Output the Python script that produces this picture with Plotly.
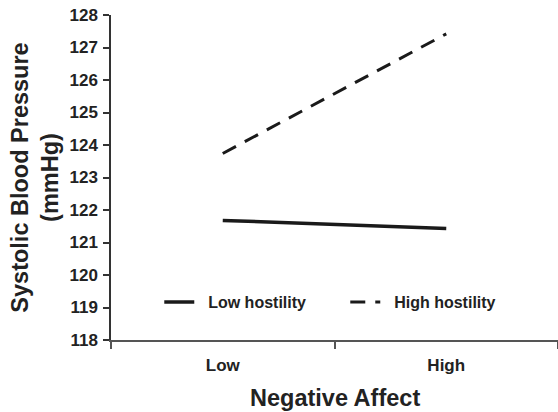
import plotly.graph_objects as go

categories = ["Low", "High"]
low_hostility = [121.68, 121.43]
high_hostility = [123.74, 127.42]
y_ticks = list(range(118, 129))

FONT = "Liberation Sans, Arial, sans-serif"
INK = "#222222"

fig = go.Figure()
fig.add_trace(go.Scatter(
    x=categories, y=low_hostility, mode="lines", name="&nbsp;&nbsp;<b>Low hostility</b>",
    line=dict(color="#1a1a1a", width=3.5),
))
fig.add_trace(go.Scatter(
    x=categories, y=high_hostility, mode="lines", name="&nbsp;&nbsp;<b>High hostility</b>",
    line=dict(color="#1a1a1a", width=3, dash="15px,10px"),
))

fig.update_layout(
    width=558, height=412,
    margin=dict(l=111, r=0, t=15, b=72),
    paper_bgcolor="white", plot_bgcolor="white",
    font=dict(family=FONT, color=INK, size=16),
    showlegend=True,
    legend=dict(
        orientation="h", x=0.108, y=0.117, xanchor="left", yanchor="middle",
        bgcolor="rgba(0,0,0,0)", entrywidth=141, entrywidthmode="pixels",
        font=dict(family=FONT, size=16, color=INK),
    ),
    xaxis=dict(
        type="category", range=[-0.5, 1.5], automargin=False,
        tickvals=categories, ticktext=[f"<b>{c}</b>" for c in categories],
        showline=True, linecolor="#555555", linewidth=2,
        ticks="outside", tickson="boundaries", ticklen=7, tickcolor="#555555", tickwidth=1.5,
        showgrid=False, zeroline=False,
        tickfont=dict(family=FONT, size=17, color=INK),
        ticklabelstandoff=9,
    ),
    yaxis=dict(
        range=[118, 128], tickvals=y_ticks, ticktext=[f"<b>{v}</b>" for v in y_ticks],
        showline=True, linecolor="#333333", linewidth=1.5,
        ticks="outside", ticklen=6, tickcolor="#333333", tickwidth=1.5,
        showgrid=False, zeroline=False,
        tickfont=dict(family=FONT, size=17, color=INK),
        ticklabelstandoff=2,
        title=dict(text="<b>Systolic Blood Pressure</b><br><b>(mmHg)</b>", standoff=4,
                   font=dict(family=FONT, size=23.5, color=INK)),
    ),
    annotations=[dict(
        text="<b>Negative Affect</b>", xref="paper", yref="paper", x=0.5, y=0,
        xanchor="center", yanchor="bottom", yshift=-72, showarrow=False, borderpad=0,
        font=dict(family=FONT, size=23.5, color=INK),
    )],
)

fig.write_html("out.html")
